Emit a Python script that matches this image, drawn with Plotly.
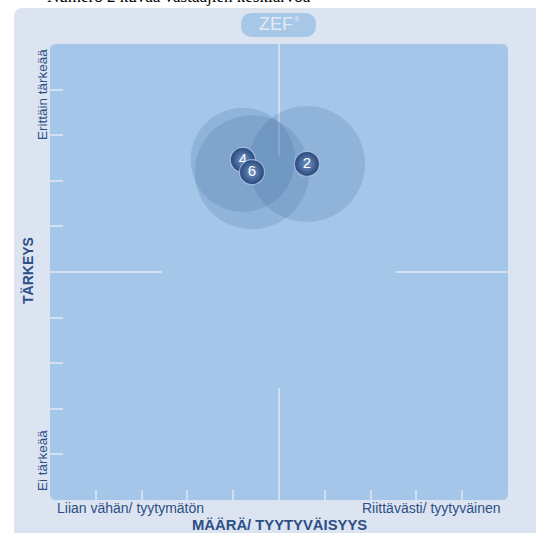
import plotly.graph_objects as go

# ---- data ----
labels = ["4", "6", "2"]
x_vals = [4.21, 4.41, 5.61]        # MÄÄRÄ / TYYTYVÄISYYS
y_vals = [7.46, 7.19, 7.37]        # TÄRKEYS
spread = [1.14, 1.25, 1.27]        # radius of translucent circle
x_ticks = [1, 2, 3, 4, 6, 7, 8, 9]
y_ticks = [1, 2, 3, 4, 5, 6, 7, 8, 9]

W, H = 536, 533
def px(p):
    return p / W
def py(p):
    return 1 - p / H

PL, PR, PT, PB = 50, 508, 44, 500   # plot area in pixels

fig = go.Figure()

def rounded_rect(x0, y0, x1, y1, r):
    X = lambda v: f"{px(v):.5f}"
    Y = lambda v: f"{py(v):.5f}"
    return (f"M {X(x0+r)},{Y(y0)} L {X(x1-r)},{Y(y0)} Q {X(x1)},{Y(y0)} {X(x1)},{Y(y0+r)} "
            f"L {X(x1)},{Y(y1-r)} Q {X(x1)},{Y(y1)} {X(x1-r)},{Y(y1)} "
            f"L {X(x0+r)},{Y(y1)} Q {X(x0)},{Y(y1)} {X(x0)},{Y(y1-r)} "
            f"L {X(x0)},{Y(y0+r)} Q {X(x0)},{Y(y0)} {X(x0+r)},{Y(y0)} Z")

shapes = []
shapes.append(dict(type="path", xref="paper", yref="paper", layer="below",
                   path=rounded_rect(14, 8, 545, 545, 9),
                   fillcolor="#dce3f1", line=dict(width=0)))
shapes.append(dict(type="path", xref="paper", yref="paper", layer="below",
                   path=rounded_rect(241, 13, 316, 37, 12),
                   fillcolor="#a7c7e7", line=dict(width=0)))
shapes.append(dict(type="path", xref="paper", yref="paper", layer="below",
                   path=rounded_rect(PL, PT, PR, PB, 6),
                   fillcolor="#a4c6e8", line=dict(width=0)))
lc = dict(color="#d3dff0", width=2)
shapes += [
    dict(type="line", xref="x", yref="y", x0=5, x1=5, y0=7.55, y1=10, line=lc, layer="below"),
    dict(type="line", xref="x", yref="y", x0=5, x1=5, y0=0, y1=2.45, line=lc, layer="below"),
    dict(type="line", xref="x", yref="y", x0=0, x1=2.45, y0=5, y1=5, line=lc, layer="below"),
    dict(type="line", xref="x", yref="y", x0=7.55, x1=10, y0=5, y1=5, line=lc, layer="below"),
]
for cx, cy, r in zip(x_vals, y_vals, spread):
    shapes.append(dict(type="circle", xref="x", yref="y", layer="below",
                       x0=cx - r, x1=cx + r, y0=cy - r, y1=cy + r,
                       fillcolor="rgba(45,85,145,0.16)", line=dict(width=0)))

for lab, xv, yv in zip(labels, x_vals, y_vals):
    fig.add_trace(go.Scatter(
        x=[xv], y=[yv], mode="markers+text", text=[lab],
        textposition="middle center",
        textfont=dict(family="Liberation Sans", size=15, color="white"),
        marker=dict(size=25, color="#27467a",
                    gradient=dict(type="radial", color="#7396c6"),
                    line=dict(width=1.2, color="rgba(190,210,235,0.7)")),
        hoverinfo="skip", showlegend=False))

txt = "#2c4f85"
F = "Liberation Sans"

def note(x, y, text, size, color=txt, family=F, angle=0, xa="center", ya="middle"):
    return dict(xref="paper", yref="paper", x=px(x), y=py(y), text=text, textangle=angle,
                xanchor=xa, yanchor=ya, showarrow=False,
                font=dict(family=family, size=size, color=color))

ann = [
    note(42, 95, "Erittäin tärkeää", 13.5, angle=-90),
    note(42, 461, "Ei tärkeää", 13.5, angle=-90),
    note(28, 271, "<b>TÄRKEYS</b>", 14, angle=-90),
    note(55, 508, "Liian vähän/ tyytymätön", 14, xa="left"),
    note(503, 508, "Riittävästi/ tyytyväinen", 14, xa="right"),
    note(279, 525, "<b>MÄÄRÄ/ TYYTYVÄISYYS</b>", 14.8),
    note(276, 24, "ZEF", 18, color="#e3eaf5"),
    note(297, 19, "®", 8, color="#e3eaf5"),
    note(45, -4, "Numero 2 kuvaa vastaajien keskiarvoa", 17, color="black",
         family="Liberation Serif", xa="left"),
]

fig.update_layout(
    width=W, height=H, margin=dict(l=0, r=0, t=0, b=0),
    paper_bgcolor="white", plot_bgcolor="rgba(0,0,0,0)",
    shapes=shapes, annotations=ann,
    xaxis=dict(domain=[px(PL), px(PR)], range=[0, 10], showgrid=False, zeroline=False,
               tickvals=x_ticks, ticks="inside", ticklen=10, tickwidth=2, tickcolor="#d3dff0",
               showticklabels=False, fixedrange=True),
    yaxis=dict(domain=[py(PB), py(PT)], range=[0, 10], showgrid=False, zeroline=False,
               tickvals=y_ticks, ticks="inside", ticklen=13, tickwidth=2, tickcolor="#d3dff0",
               showticklabels=False, fixedrange=True),
)

fig.write_html("out.html", config={"displayModeBar": False},
               post_script="document.body.style.margin='0';")
